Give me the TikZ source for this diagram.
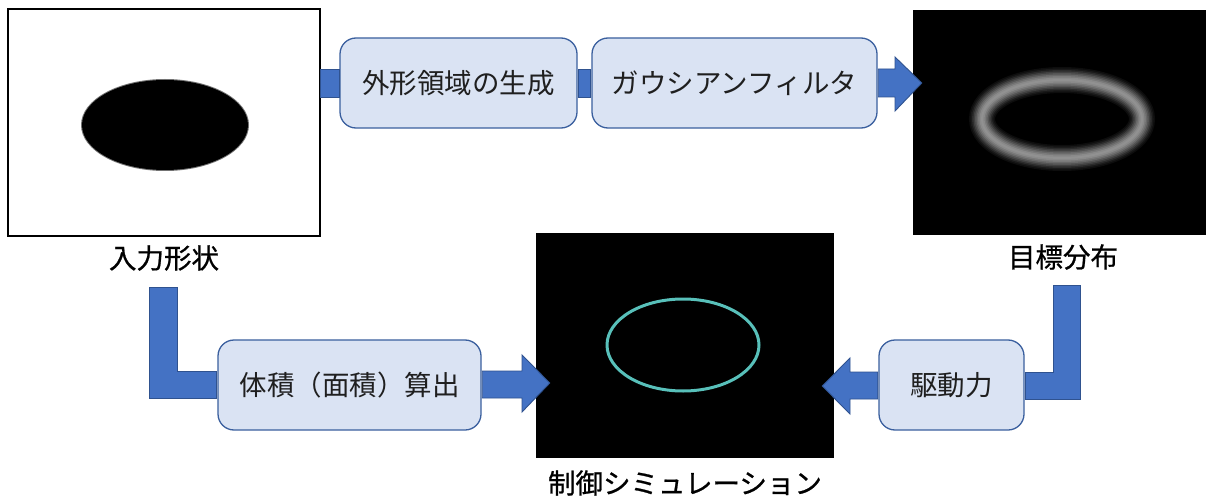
\documentclass[tikz,border=0pt]{standalone}
\usepackage{fontspec}
\usetikzlibrary{calc}
\newfontfamily\jp{Noto Sans CJK JP}
\newfontfamily\jpb[FakeBold=0.8]{Noto Sans CJK JP}
\definecolor{boxfill}{HTML}{DAE3F3}
\definecolor{boxline}{HTML}{3A5F9E}
\definecolor{arrfill}{HTML}{4472C4}
\definecolor{arrline}{HTML}{2F528F}
\definecolor{teal}{RGB}{88,192,186}
\tikzset{
  procbox/.style={draw=boxline, fill=boxfill, line width=1.3pt, rounded corners=16pt,
    minimum height=90pt, inner sep=0pt, font=\jp\fontsize{27.5}{33}\selectfont, text=black!88},
  caption/.style={font=\jpb\fontsize{27.5}{33}\selectfont, inner sep=0pt},
  arr/.style={fill=arrfill, draw=arrline, line width=0.9pt, line join=miter},
}
\begin{document}
\begin{tikzpicture}[x=1pt,y=-1pt]
\useasboundingbox (0,0) rectangle (1206,497);
\fill[white] (0,0) rectangle (1206,497);

% ---- image nodes ----
\node[draw=black, line width=1.4pt, fill=white, minimum width=312pt, minimum height=227pt, inner sep=0pt] (in) at (164,122.5) {};
\node[fill=black, minimum width=293pt, minimum height=225pt, inner sep=0pt] (tgt) at (1059.5,122.5) {};
\node[fill=black, minimum width=298pt, minimum height=225pt, inner sep=0pt] (sim) at (685,345.5) {};

% input shape: black ellipse
\fill[black!55] (165,125) ellipse [x radius=84pt, y radius=46pt];
\fill[black] (165,125) ellipse [x radius=83pt, y radius=45pt];

% target: blurred gray ring
\coordinate (tc) at (1062,119);
\foreach \w/\c in {26/5, 23/10, 20/17, 17/25, 14/33, 11/41, 8/48, 5/54, 2/57}
  \draw[line width=\w pt, color=white!\c!black] (tc) ellipse [x radius=80pt, y radius=39pt];

% simulation: teal ring
\draw[teal, line width=3pt] (683,345) ellipse [x radius=76pt, y radius=46pt];

% ---- captions ----
\node[caption] (inlab) at (164,258) {入力形状};
\node[caption] (tgtlab) at (1063,257) {目標分布};
\node[caption] (simlab) at (685,483) {制御シミュレーション};

% ---- process boxes ----
\node[procbox, minimum width=237pt] (b1) at (458.5,83) {外形領域の生成};
\node[procbox, minimum width=285pt] (b2) at (734.5,83) {ガウシアンフィルタ};
\node[procbox, minimum width=263pt] (b3) at (349.5,385) {体積（面積）算出};
\node[procbox, minimum width=145pt] (b4) at (951.5,385) {駆動力};

% ---- connectors ----
% input -> b1
\filldraw[arr] ($(in.east)+(0,-53.5)$) rectangle ($(b1.west)+(0,14)$);
% b1 -> b2
\filldraw[arr] ($(b1.east)+(0.6,-14)$) rectangle ($(b2.west)+(-0.6,14)$);
% b2 -> target
\filldraw[arr] ($(b2.east)+(0.6,-14)$) -- (895,69) -- (895,57) -- ($(tgt.west)+(9,-39.5)$)
  -- (895,111) -- (895,97) -- ($(b2.east)+(0.6,14)$) -- cycle;
% input caption -> b3 (L shape)
\coordinate (lt) at (163,287);
\filldraw[arr] ($(lt)+(-14,0)$) -- ($(lt)+(14,0)$) -- (177,371) -- ($(b3.west)+(-0.6,-14)$)
  -- ($(b3.west)+(-0.6,13)$) -- (149,398) -- cycle;
% b3 -> sim
\filldraw[arr] ($(b3.east)+(0.6,-14)$) -- (522,371) -- (522,355) -- ($(sim.west)+(14,37.5)$)
  -- (522,412) -- (522,398) -- ($(b3.east)+(0.6,13)$) -- cycle;
% target caption -> b4 (L shape)
\coordinate (rt) at (1066.5,285);
\filldraw[arr] ($(rt)+(13.5,0)$) -- ($(rt)+(-13.5,0)$) -- (1053,372) -- ($(b4.east)+(0.6,-13)$)
  -- ($(b4.east)+(0.6,14)$) -- (1080,399) -- cycle;
% b4 -> sim
\filldraw[arr] ($(b4.west)+(-0.6,-13)$) -- (850,372) -- (850,358) -- ($(sim.east)+(-12,40.5)$)
  -- (850,414) -- (850,399) -- ($(b4.west)+(-0.6,14)$) -- cycle;
\end{tikzpicture}
\end{document}
